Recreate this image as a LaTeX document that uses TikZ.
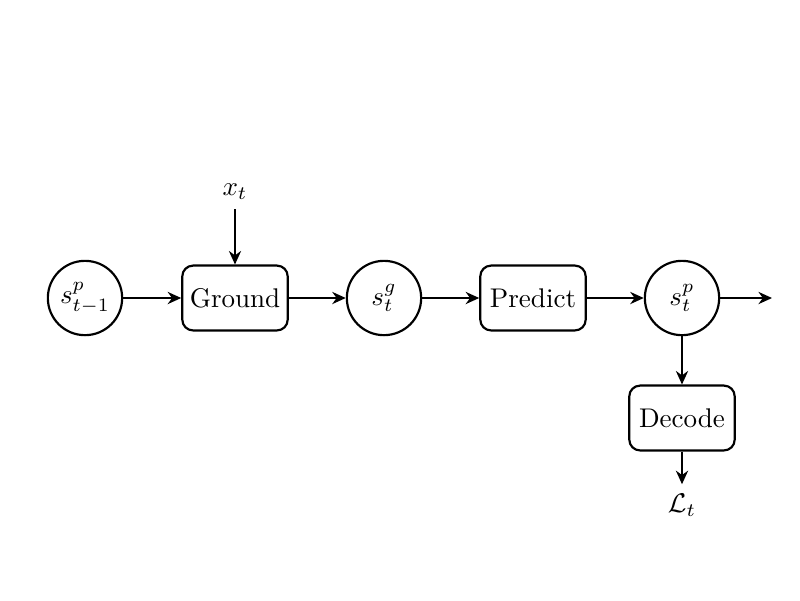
\documentclass[tikz,border=0pt]{standalone}
\usetikzlibrary{arrows.meta}
\begin{document}
\begin{tikzpicture}[x=0.37pt,y=-0.37pt,
  st/.style={circle,draw,line width=0.8pt,minimum size=27.5pt,inner sep=0pt},
  bx/.style={rectangle,rounded corners=4pt,draw,line width=0.8pt,minimum width=39pt,minimum height=24pt,inner sep=1pt},
  ar/.style={-{Stealth[length=5pt,width=4.5pt]},line width=0.8pt},
  mar/.style={-{Stealth[length=5pt,width=4.5pt]},line width=1.1pt}]
\useasboundingbox (0,0) rectangle (800,600);
\node[st] (s0) at (85,298) {$s^p_{t-1}$};
\node[bx] (g) at (235,298) {Ground};
\node[st] (sg) at (384,298) {$s^g_t$};
\node[bx] (p) at (533,298) {Predict};
\node[st] (sp) at (682,298) {$s^p_t$};
\node[bx] (d) at (682,418) {Decode};
\node (x) at (235,192) {$x_t$};
\node (L) at (682,505) {$\mathcal{L}_t$};
\coordinate (e) at (772,298);
\draw[mar] (s0) -- (g);
\draw[mar] (g) -- (sg);
\draw[mar] (sg) -- (p);
\draw[mar] (p) -- (sp);
\draw[mar] (sp) -- (e);
\draw[ar] (x) -- (g);
\draw[ar] (sp) -- (d);
\draw[ar] (d) -- (L);
\end{tikzpicture}
\end{document}
